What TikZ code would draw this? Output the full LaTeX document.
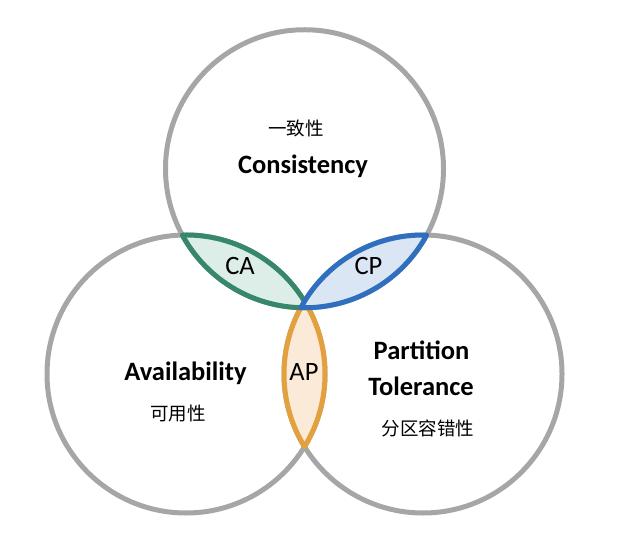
\documentclass[tikz,border=0pt]{standalone}
\usepackage{fontspec}
\usetikzlibrary{calc}
\setmainfont{Carlito}
\newfontfamily\cjk{Noto Sans CJK SC}
\definecolor{ringgray}{HTML}{A6A6A6}
\definecolor{cagreen}{HTML}{37876A}
\definecolor{cafill}{HTML}{DCEEE7}
\definecolor{cpblue}{HTML}{2F6FBE}
\definecolor{cpfill}{HTML}{DAE6F4}
\definecolor{aporange}{HTML}{E2A03F}
\definecolor{apfill}{HTML}{FCEAD8}
\begin{document}
\begin{tikzpicture}[x=1pt,y=1pt,
  ring/.style={draw=ringgray,line width=5pt},
  lens/.style={line width=5pt,line join=round},
  entitle/.style={font=\fontsize{26.5}{30}\selectfont\bfseries,anchor=base},
  zhlabel/.style={font=\cjk\fontsize{18.5}{22}\selectfont},
  lenslabel/.style={font=\fontsize{26.5}{30}\selectfont,anchor=base}]
\useasboundingbox (0,0) rectangle (617,554);
\def\R{139}
\pgfmathsetmacro{\al}{acos(118.5/139)}
\coordinate (L) at (186,180);
\coordinate (Rc) at (423,180);
\coordinate (T) at (304.5,385.25);
% circles
\draw[ring] (T) circle[radius=\R];
\draw[ring] (L) circle[radius=\R];
\draw[ring] (Rc) circle[radius=\R];
% AP lens (L and R)
\filldraw[lens,draw=aporange,fill=apfill]
  ($(L)+(-\al:\R)$) arc[start angle=-\al,end angle=\al,radius=\R]
  arc[start angle=180-\al,end angle=180+\al,radius=\R] -- cycle;
% CA lens (T and L)
\filldraw[lens,draw=cagreen,fill=cafill]
  ($(T)+(240-\al:\R)$) arc[start angle=240-\al,end angle=240+\al,radius=\R]
  arc[start angle=60-\al,end angle=60+\al,radius=\R] -- cycle;
% CP lens (T and R)
\filldraw[lens,draw=cpblue,fill=cpfill]
  ($(Rc)+(120-\al:\R)$) arc[start angle=120-\al,end angle=120+\al,radius=\R]
  arc[start angle=300-\al,end angle=300+\al,radius=\R] -- cycle;
% labels
\node[zhlabel] (czh) at (296,426) {一致性};
\node[entitle] (cen) at (303,380) {Consistency};
\node[entitle] (aen) at (185.5,174) {Availability};
\node[zhlabel] (azh) at (178,140) {可用性};
\node[entitle] (pen1) at (421.5,194) {Partition};
\node[entitle] (pen2) at (421,159) {Tolerance};
\node[zhlabel] (pzh) at (428,126) {分区容错性};
\node[lenslabel] (ca) at (240,279) {CA};
\node[lenslabel] (cp) at (368.5,279) {CP};
\node[lenslabel] (ap) at (304,174) {AP};
\end{tikzpicture}
\end{document}
